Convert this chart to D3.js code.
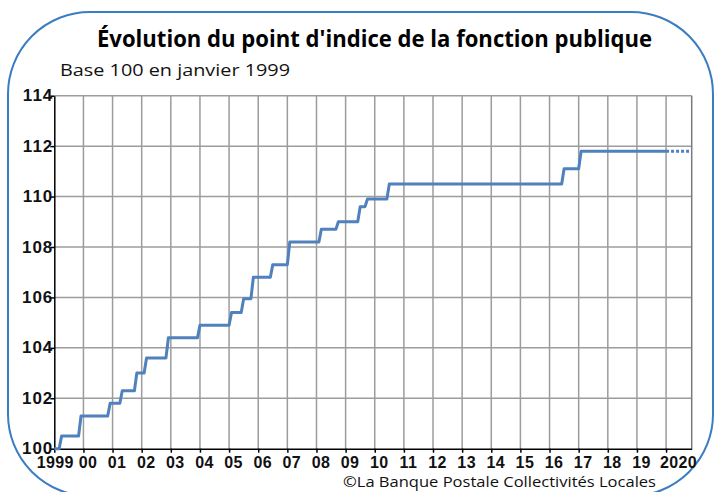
<!DOCTYPE html>
<html>
<head>
<meta charset="utf-8">
<script src="https://cdn.jsdelivr.net/npm/d3@7"></script>
<style>
  body { margin: 0; background: #fff; }
  svg { display: block; }
</style>
</head>
<body>
<div id="chart"></div>
<script>
"use strict"

// each revaluation of the point: year, month, index level after it
const stepYears  = [1999, 1999, 2000, 2001, 2001, 2002, 2002, 2004, 2005, 2005, 2005, 2006, 2007, 2008, 2008, 2009, 2009, 2010, 2016, 2017]
const stepMonths = [4, 12, 12, 5, 11, 3, 12, 1, 2, 7, 11, 7, 2, 3, 10, 7, 10, 7, 7, 2]
const stepLevels = [100.5, 101.3, 101.8, 102.3, 103.0, 103.6, 104.4, 104.9, 105.4, 105.95, 106.8, 107.3, 108.2, 108.7, 109.0, 109.6, 109.9, 110.5, 111.1, 111.8]
const startYear = 1999
const startLevel = 100
const solidEnd = 2020
const dottedEnd = 2020.8

const yearTicks = d3.range(1999, 2021)
const yearLabels = ["1999", "00", "01", "02", "03", "04", "05", "06", "07", "08", "09",
  "10", "11", "12", "13", "14", "15", "16", "17", "18", "19", "2020"]
const levelTicks = [100, 102, 104, 106, 108, 110, 112, 114]

const title = "Évolution du point d'indice de la fonction publique"
const subtitle = "Base 100 en janvier 1999"
const source = "©La Banque Postale Collectivités Locales"

const width = 716
const height = 492
const plot = { left: 54.3, right: 691.7, top: 95.7, bottom: 448.7 }
const lineColor = "#4f81bd"
const gridColor = "#9c9c9c"

const svg = d3.select("#chart").append("svg")
  .attr("width", width)
  .attr("height", height)

const x = d3.scaleLinear().domain([1999, 2020.88]).range([plot.left, plot.right])
const y = d3.scaleLinear().domain([100, 114]).range([plot.bottom, plot.top])

// build the step line: a one month ramp before each new level
let points = [[startYear, startLevel]]
let level = startLevel
stepYears.forEach((yr, i) => {
  let t = yr + (stepMonths[i] - 1) / 12
  points.push([t - 1 / 12, level])
  level = stepLevels[i]
  points.push([t, level])
})
points.push([solidEnd, level])
let dotted = [[solidEnd, level], [dottedEnd, level]]

// frame
svg.append("rect")
  .attr("x", 8)
  .attr("y", 12)
  .attr("width", 705)
  .attr("height", 484)
  .attr("rx", 82)
  .attr("ry", 82)
  .attr("fill", "none")
  .attr("stroke", "#3a7dc0")
  .attr("stroke-width", 2)

// titles
svg.append("text")
  .attr("x", 97)
  .attr("y", 47)
  .attr("font-family", "Open Sans, sans-serif")
  .attr("font-weight", "bold")
  .attr("font-size", "23px")
  .attr("textLength", 555)
  .attr("lengthAdjust", "spacingAndGlyphs")
  .attr("fill", "#000")
  .text(title)

svg.append("text")
  .attr("x", 60)
  .attr("y", 76)
  .attr("font-family", "Open Sans, sans-serif")
  .attr("font-size", "17px")
  .attr("textLength", 230)
  .attr("lengthAdjust", "spacingAndGlyphs")
  .attr("fill", "#111")
  .text(subtitle)

svg.append("text")
  .attr("x", 343)
  .attr("y", 487)
  .attr("font-family", "Open Sans, sans-serif")
  .attr("font-size", "15px")
  .attr("textLength", 313)
  .attr("lengthAdjust", "spacingAndGlyphs")
  .attr("fill", "#111")
  .text(source)

// grid
let grid = svg.append("g").attr("class", "grid")

grid.selectAll("line.v")
  .data(yearTicks.slice(1))
  .enter()
    .append("line")
    .attr("class", "v")
    .attr("x1", (d) => x(d))
    .attr("x2", (d) => x(d))
    .attr("y1", plot.top)
    .attr("y2", plot.bottom)
    .attr("stroke", gridColor)
    .attr("stroke-width", 1.5)

grid.selectAll("line.h")
  .data(levelTicks.slice(1))
  .enter()
    .append("line")
    .attr("class", "h")
    .attr("x1", plot.left)
    .attr("x2", plot.right)
    .attr("y1", (d) => y(d))
    .attr("y2", (d) => y(d))
    .attr("stroke", gridColor)
    .attr("stroke-width", 1.5)

grid.append("line")
  .attr("x1", plot.right)
  .attr("x2", plot.right)
  .attr("y1", plot.top)
  .attr("y2", plot.bottom)
  .attr("stroke", "#7a7a7a")
  .attr("stroke-width", 1.5)

// axes
let xAxis = svg.append("g")
  .attr("transform", `translate(0, ${plot.bottom})`)
  .call(d3.axisBottom(x)
    .tickValues(yearTicks)
    .tickSize(4)
    .tickSizeOuter(0)
    .tickFormat((d, i) => yearLabels[i]))

xAxis.select(".domain").attr("stroke", "#000").attr("stroke-width", 1.5)
xAxis.selectAll(".tick line").attr("stroke", "#000").attr("stroke-width", 1.5)
xAxis.selectAll(".tick text")
  .attr("font-family", "Liberation Sans, Arial, sans-serif")
  .attr("font-weight", "bold")
  .attr("font-size", "16px")
  .attr("letter-spacing", "0.4px")
  .attr("fill", "#111")
  .attr("y", 8)
  .attr("dx", (d, i) => i == 0 ? 0.5 : (i == yearTicks.length - 1 ? 12 : 4))

let yAxis = svg.append("g")
  .attr("transform", `translate(${plot.left}, 0)`)
  .call(d3.axisLeft(y)
    .tickValues(levelTicks)
    .tickSize(4)
    .tickSizeOuter(0))

yAxis.select(".domain").attr("stroke", "#000").attr("stroke-width", 1.5)
yAxis.selectAll(".tick line").attr("stroke", "#000").attr("stroke-width", 1.5)
yAxis.selectAll(".tick text")
  .attr("font-family", "Liberation Sans, Arial, sans-serif")
  .attr("font-weight", "bold")
  .attr("font-size", "17px")
  .attr("letter-spacing", "1px")
  .attr("fill", "#111")
  .attr("x", -1)
  .attr("dy", "0.3em")

// series
let line = d3.line()
  .x((d) => x(d[0]))
  .y((d) => y(d[1]))

svg.append("path")
  .datum(points)
  .attr("d", line)
  .attr("fill", "none")
  .attr("stroke", lineColor)
  .attr("stroke-width", 3)
  .attr("stroke-linejoin", "round")

svg.append("path")
  .datum(dotted)
  .attr("d", line)
  .attr("fill", "none")
  .attr("stroke", lineColor)
  .attr("stroke-width", 3)
  .attr("stroke-dasharray", "3 2")
</script>
</body>
</html>
